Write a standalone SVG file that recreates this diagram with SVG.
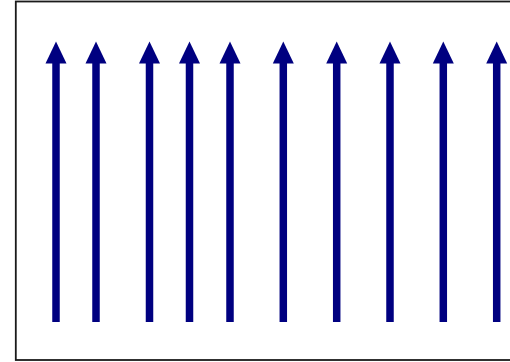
<svg xmlns="http://www.w3.org/2000/svg" width="510" height="362" viewBox="0 0 510 362">
<style>
.frame{fill:#fff;stroke:#1a1a1a;stroke-width:1.8}
.shaft{stroke:#000080;stroke-width:7.5;fill:none}
.head{fill:#000080}
</style>
<defs>
<g id="arrow">
<line class="shaft" x1="0" y1="322" x2="0" y2="60"/>
<path class="head" d="M0,41.5 L10.5,63.5 L-10.5,63.5 Z"/>
</g>
</defs>
<rect width="510" height="362" fill="#fff"/>
<rect class="frame" x="15.8" y="1.5" width="510" height="358.5"/>
<g id="connectors">
<use href="#arrow" x="56" y="0"/>
<use href="#arrow" x="96" y="0"/>
<use href="#arrow" x="149.5" y="0"/>
<use href="#arrow" x="189.5" y="0"/>
<use href="#arrow" x="230" y="0"/>
<use href="#arrow" x="283.3" y="0"/>
<use href="#arrow" x="336.7" y="0"/>
<use href="#arrow" x="390" y="0"/>
<use href="#arrow" x="443.3" y="0"/>
<use href="#arrow" x="496.7" y="0"/>
</g>
</svg>
